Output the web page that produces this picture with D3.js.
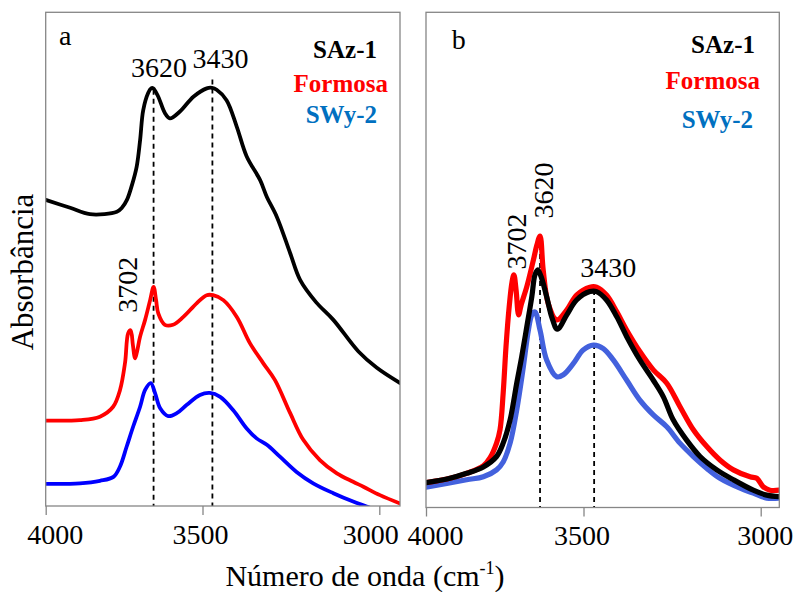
<!DOCTYPE html>
<html>
<head>
<meta charset="utf-8">
<script src="https://cdn.jsdelivr.net/npm/d3@7"></script>
<style>
  body { margin: 0; background: #fff; }
  text { font-family: "Liberation Serif", "Times New Roman", serif; }
</style>
</head>
<body>
<svg id="chart" width="795" height="592"></svg>
<script>
// ---------------- DATA ----------------
// x tick values (wavenumber, cm-1) and their labels
const tickValues = [4000, 3500, 3000];
const tickLabels = ["4000", "3500", "3000"];
const seriesNames = ["SAz-1", "Formosa", "SWy-2"];

// Panel a: [wavenumber, absorbance (a.u., offset-stacked)]
const aSAz1 = [[4000,62.0],[3922,60.4],[3859,59.1],[3773,59.6],[3757,60.4],[3741,62.0],[3725,65.0],[3710,68.7],[3699,74.1],[3689,80.2],[3673,83.7],[3664,84.6],[3657,84.6],[3641,82.9],[3620,79.6],[3604,78.5],[3572,79.9],[3529,82.9],[3488,84.6],[3473,84.7],[3460,84.3],[3432,82.2],[3403,76.8],[3375,70.8],[3337,66.0],[3318,62.6],[3290,58.6],[3252,51.2],[3224,45.8],[3179,41.3],[3130,37.7],[3059,31.3],[3007,28.0],[2941,24.9]];
const aFormosa = [[4000,17.3],[3891,17.4],[3827,18.1],[3785,20.1],[3763,23.5],[3747,29.0],[3737,35.0],[3729,35.6],[3722,32.6],[3715,29.9],[3709,31.2],[3699,34.3],[3683,37.7],[3667,41.7],[3656,44.4],[3648,41.7],[3641,39.0],[3620,36.7],[3594,36.7],[3561,38.3],[3518,41.1],[3488,42.7],[3470,42.7],[3441,41.7],[3403,38.3],[3366,33.0],[3328,28.9],[3295,25.5],[3252,18.8],[3215,13.4],[3168,9.3],[3120,6.6],[3074,4.9],[3045,3.9],[2998,2.2],[2941,0.5]];
const aSWy2 = [[4000,4.5],[3891,4.6],[3827,5.1],[3784,5.9],[3763,8.0],[3742,12.0],[3721,16.1],[3699,20.1],[3683,23.5],[3665,24.9],[3651,22.8],[3635,19.8],[3609,18.2],[3582,18.8],[3550,20.5],[3508,22.5],[3479,22.9],[3450,22.1],[3413,19.4],[3375,15.7],[3347,13.7],[3318,12.4],[3281,10.0],[3234,6.9],[3187,4.6],[3130,2.6],[3074,0.9],[3036,-0.1],[2998,-1.2]];

// Panel b
const bSAz1 = [[4000,5.0],[3924,5.9],[3871,6.9],[3818,8.2],[3776,10.3],[3755,13.0],[3733,17.7],[3712,25.1],[3696,30.5],[3680,36.5],[3664,42.6],[3654,47.0],[3645,48.0],[3635,46.7],[3617,42.6],[3600,38.3],[3583,36.0],[3553,38.9],[3522,41.9],[3482,43.6],[3463,43.6],[3435,41.9],[3406,38.5],[3378,34.5],[3341,29.8],[3303,25.7],[3275,22.4],[3247,17.7],[3209,13.6],[3171,10.3],[3124,7.6],[3077,5.6],[3021,3.5],[2983,2.5],[2948,2.2]];
const bFormosa = [[4000,5.0],[3924,5.9],[3871,6.9],[3818,8.4],[3797,10.0],[3776,13.0],[3765,15.7],[3755,23.1],[3746,32.5],[3736,40.5],[3727,45.5],[3721,47.0],[3714,43.9],[3706,38.9],[3698,40.9],[3680,44.6],[3659,50.0],[3648,53.0],[3638,54.8],[3628,48.0],[3612,41.2],[3585,37.9],[3553,39.9],[3522,42.9],[3482,44.5],[3463,44.5],[3435,42.9],[3406,39.5],[3378,35.8],[3341,31.5],[3303,27.8],[3265,25.1],[3228,20.4],[3190,15.7],[3152,12.3],[3115,9.6],[3077,7.6],[3030,6.2],[3011,5.9],[2993,4.2],[2974,3.5],[2948,3.5]];
const bSWy2 = [[4000,4.1],[3871,5.6],[3818,6.2],[3776,7.6],[3755,9.2],[3733,13.0],[3712,19.7],[3691,28.4],[3675,35.8],[3664,38.9],[3654,39.5],[3638,35.8],[3617,29.8],[3585,26.4],[3564,26.8],[3532,29.1],[3501,31.8],[3472,32.8],[3444,32.1],[3416,29.8],[3378,25.7],[3341,21.7],[3303,18.7],[3265,16.3],[3228,13.0],[3190,10.3],[3152,7.9],[3115,5.9],[3058,3.9],[3021,2.9],[2983,1.9],[2948,1.9]];

// Peak marker lines: [wavenumber, top absorbance]
const aPeakLines = [[3656, 84.3], [3472, 86.4]];
const bPeakLines = [[3638, 53.0], [3470, 43.9]];
// Peak labels: [text, wavenumber, absorbance, rotated]
const aPeakLabels = [["3620", 3639, 86.8, false], ["3430", 3449, 88.7, false], ["3702", 3709, 44.8, true]];
const bPeakLabels = [["3702", 3682, 53.7, true], ["3620", 3598, 64.0, true], ["3430", 3430, 46.6, false]];

// ---------------- DRAW ----------------
const svg = d3.select("#chart");
svg.append("rect").attr("width", 795).attr("height", 592).attr("fill", "#fff");

const panels = [
  { id: "a", left: 45.7, right: 400, top: 12.3, bottom: 506, xr: [45.7, 202.5, 379.3],
    series: [aSWy2, aFormosa, aSAz1], colors: ["#0000FF", "#FF0000", "#000000"], lw: 3.8,
    lines: aPeakLines, labels: aPeakLabels, tickDx: [9, -2.5, -9],
    legendRight: [377, 388, 377], legendY: [58, 91.7, 123.3], letterX: 59, letterY: 45 },
  { id: "b", left: 426, right: 779.3, top: 12.3, bottom: 507.5, xr: [426, 583.5, 760.7],
    series: [bSWy2, bFormosa, bSAz1], colors: ["#4361DD", "#FF0000", "#000000"], lw: 5.2,
    lines: bPeakLines, labels: bPeakLabels, tickDx: [9, -2, 4],
    legendRight: [755, 760, 753], legendY: [53.3, 89.3, 128.3], letterX: 451.7, letterY: 49 }
];
const legendColors = ["#000000", "#FF0000", "#0070C0"];

panels.forEach((p, pi) => {
  const x = d3.scaleLinear().domain(tickValues).range(p.xr);
  const y = d3.scaleLinear().domain([0, 100]).range([p.bottom, p.top]);
  const g = svg.append("g");

  const clipId = "clip" + pi;
  svg.append("clipPath").attr("id", clipId).append("rect")
    .attr("x", p.left).attr("y", p.top).attr("width", p.right - p.left).attr("height", p.bottom - p.top);

  // dashed peak lines
  g.selectAll(".pk").data(p.lines).enter().append("line")
    .attr("x1", d => x(d[0])).attr("x2", d => x(d[0]))
    .attr("y1", d => y(d[1])).attr("y2", p.bottom)
    .attr("stroke", "#000").attr("stroke-width", 1.8).attr("stroke-dasharray", "5,4");

  const line = d3.line().x(d => x(d[0])).y(d => y(d[1])).curve(d3.curveCatmullRom.alpha(0.5));
  const cg = g.append("g").attr("clip-path", `url(#${clipId})`);
  p.series.forEach((s, i) => {
    cg.append("path").datum(s).attr("d", line).attr("fill", "none")
      .attr("stroke", p.colors[i]).attr("stroke-width", p.lw)
      .attr("stroke-linejoin", "round").attr("stroke-linecap", "round");
  });

  // frame
  g.append("rect").attr("x", p.left).attr("y", p.top)
    .attr("width", p.right - p.left).attr("height", p.bottom - p.top)
    .attr("fill", "none").attr("stroke", "#868686").attr("stroke-width", 1.3);

  // x axis
  const ax = g.append("g").attr("transform", `translate(0,${p.bottom})`)
    .call(d3.axisBottom(x).tickValues(tickValues).tickSize(9).tickPadding(9)
      .tickFormat((d, i) => tickLabels[i]));
  ax.select(".domain").remove();
  ax.selectAll(".tick line").attr("stroke", "#868686").attr("stroke-width", 1.3);
  ax.selectAll(".tick text").attr("font-size", 28).attr("fill", "#000")
    .attr("font-family", "Liberation Serif, Times New Roman, serif")
    .attr("dx", (d, i) => p.tickDx[i]);

  // peak labels
  p.labels.forEach(l => {
    const t = g.append("text").text(l[0]).attr("font-size", 28).attr("fill", "#000");
    if (l[3]) {
      t.attr("text-anchor", "middle")
        .attr("transform", `translate(${x(l[1])},${y(l[2])}) rotate(-90)`);
    } else {
      t.attr("text-anchor", "middle").attr("x", x(l[1])).attr("y", y(l[2]));
    }
  });

  // legend
  seriesNames.forEach((n, i) => {
    g.append("text").text(n).attr("x", p.legendRight[i]).attr("y", p.legendY[i])
      .attr("text-anchor", "end").attr("font-size", 25).attr("font-weight", "bold")
      .attr("fill", legendColors[i]);
  });

  // panel letter
  g.append("text").text(p.id).attr("x", p.letterX).attr("y", p.letterY)
    .attr("font-size", 28).attr("fill", "#000");
});

// axis titles
const xt = svg.append("text").attr("x", 365).attr("y", 586).attr("text-anchor", "middle")
  .attr("font-size", 30).attr("fill", "#000");
xt.append("tspan").text("Número de onda (cm");
xt.append("tspan").text("-1").attr("font-size", 18).attr("dy", -12);
xt.append("tspan").text(")").attr("dy", 12);

svg.append("text").text("Absorbância")
  .attr("transform", "translate(33,272) rotate(-90)")
  .attr("text-anchor", "middle").attr("font-size", 31).attr("fill", "#000");
</script>
</body>
</html>
